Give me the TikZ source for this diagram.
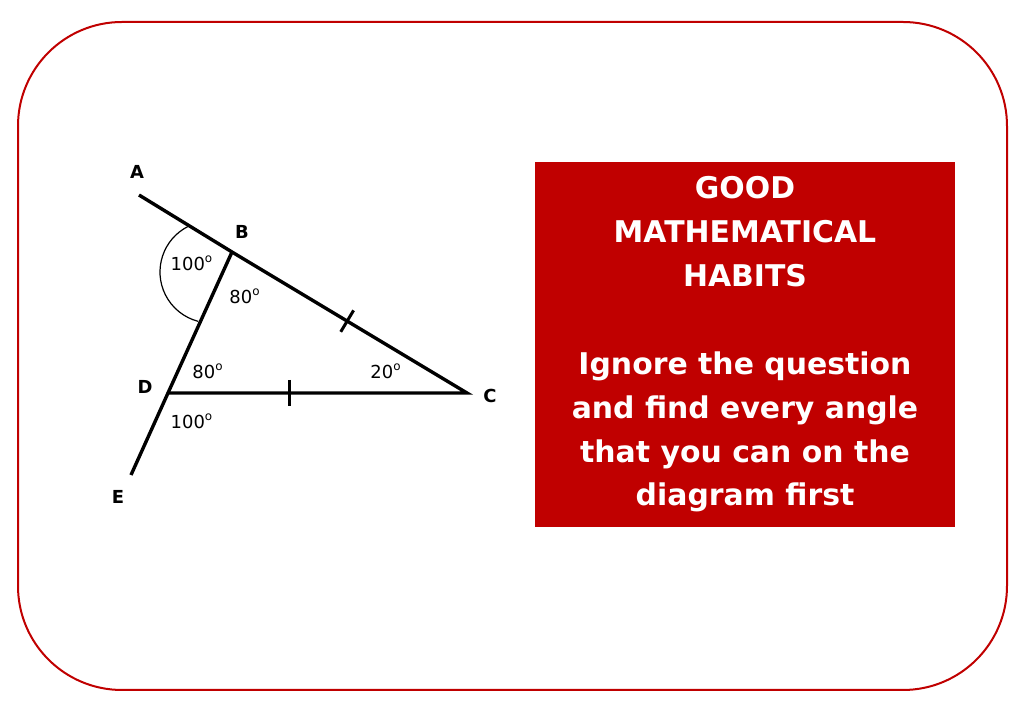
\documentclass[tikz,border=0pt]{standalone}
\usepackage{fontspec}
\setmainfont{DejaVu Sans}
\usetikzlibrary{calc}
\definecolor{framered}{HTML}{C00000}
\definecolor{boxred}{HTML}{C00000}
\newcommand{\angdeg}[1]{#1\textsuperscript{o}}

\begin{document}
\begin{tikzpicture}[x=0.5bp, y=0.5bp]
    \tikzstyle{every node}=[inner sep=0pt];
    \tikzstyle{seg}=[line width=1.7bp];
    \tikzstyle{ptlabel}=[font=\fontsize{9}{10}\selectfont\bfseries];
    \tikzstyle{anglabel}=[font=\fontsize{9}{10}\selectfont];
    \tikzstyle{habitbox}=[fill=boxred, text=white, align=center,
      minimum width=210bp, minimum height=182.5bp,
      font=\fontsize{15}{22}\selectfont\bfseries];
    \useasboundingbox (0,0) rectangle (1024,709);
    % frame
    \draw[framered, line width=1bp, rounded corners=52bp] (18,19) rectangle (1007,687);
    % points
    \coordinate (A) at (139,514);
    \coordinate (B) at (232,457);
    \coordinate (C) at (467,316);
    \coordinate (D) at (168,316);
    \coordinate (E) at (131,234);
    \coordinate (O) at (211,437);
    % lines
    \draw[seg] (A) -- (B) -- (C) -- (D);
    \draw[seg] (B) -- (D) -- (E);
    % exterior angle arc
    \draw[line width=0.6bp] ($(O)+(116.6:51)$) arc[start angle=116.6, end angle=255.4, radius=51];
    % equal sides
    \path (B) -- (C) coordinate[pos=0.49] (t1);
    \path (D) -- (C) coordinate[pos=0.405] (t2);
    \draw[line width=1.5bp] ($(t1)!6.25bp!90:(C)$) -- ($(t1)!6.25bp!-90:(C)$);
    \draw[line width=1.5bp] ($(t2)!6.5bp!90:(C)$) -- ($(t2)!6.5bp!-90:(C)$);
    % point names
    \node[ptlabel] (lA) at (137,537) {A};
    \node[ptlabel] (lB) at (242,477) {B};
    \node[ptlabel] (lC) at (490,313) {C};
    \node[ptlabel] (lD) at (145,322) {D};
    \node[ptlabel] (lE) at (118,212) {E};
    % angles
    \node[anglabel] (aB1) at (192,446) {\angdeg{100}};
    \node[anglabel] (aB2) at (245,413) {\angdeg{80}};
    \node[anglabel] (aD1) at (208,338) {\angdeg{80}};
    \node[anglabel] (aC) at (386,338) {\angdeg{20}};
    \node[anglabel] (aD2) at (192,288) {\angdeg{100}};
    % message
    \node[habitbox] (habits) at (745,364.5) {GOOD\\MATHEMATICAL\\HABITS\\[22bp]Ignore the question\\and find every angle\\that you can on the\\diagram first};
\end{tikzpicture}
\end{document}
